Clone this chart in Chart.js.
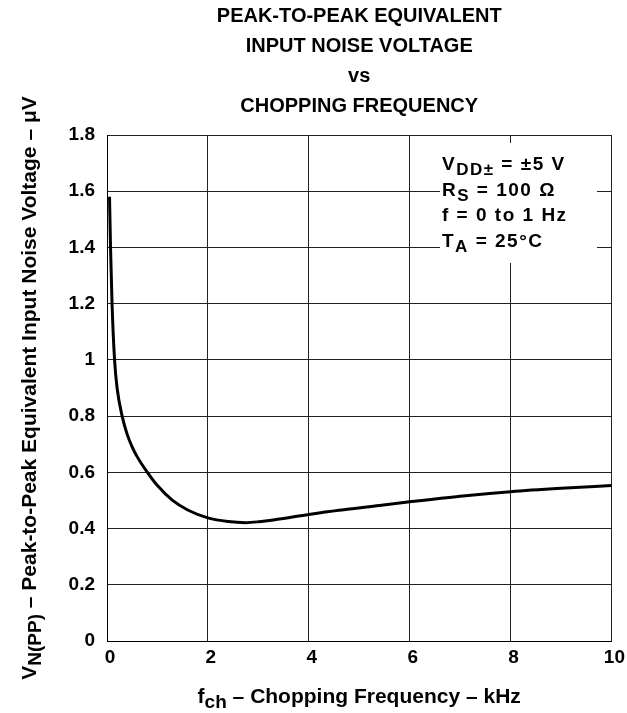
<!DOCTYPE html>
<html>
<head>
<meta charset="utf-8">
<title>Peak-to-Peak Equivalent Input Noise Voltage vs Chopping Frequency</title>
<script src="https://cdn.jsdelivr.net/npm/chart.js@4.4.1/dist/chart.umd.min.js"></script>
<style>
  html, body { margin: 0; padding: 0; background: #fff; }
  #chart { display: block; }
</style>
</head>
<body>
<canvas id="chart" width="627" height="713"></canvas>
<script>
// ---- Data ----
const freqKHz = [0.05, 0.07, 0.1, 0.15, 0.2, 0.3, 0.4, 0.5, 0.6, 0.8, 1.0, 1.3, 1.6, 2.0, 2.4, 2.75, 3.0, 3.35, 4.0, 4.6, 5.4, 6.0, 7.0, 8.0, 9.0, 10.0];
const noiseUV = [1.58, 1.4, 1.2, 1.0, 0.9, 0.8, 0.735, 0.69, 0.655, 0.6, 0.553, 0.5, 0.466, 0.438, 0.425, 0.421, 0.424, 0.432, 0.45, 0.465, 0.482, 0.495, 0.515, 0.531, 0.543, 0.553];

const titleLines = ['PEAK-TO-PEAK EQUIVALENT', 'INPUT NOISE VOLTAGE', 'vs', 'CHOPPING FREQUENCY'];
const conditions = [
  [['V', 0], ['DD\u00b1', 1], [' = \u00b15 V', 0]],
  [['R', 0], ['S', 1], [' = 100 \u03a9', 0]],
  [['f = 0 to 1 Hz', 0]],
  [['T', 0], ['A', 1], [' = 25\u00b0C', 0]]
];
const xTitle = [['f', 0], ['ch', 1], [' \u2013 Chopping Frequency \u2013 kHz', 0]];
const yTitle = [['V', 0], ['N(PP)', 1], [' \u2013 Peak-to-Peak Equivalent Input Noise Voltage \u2013 \u03bcV', 0]];

const FONT = '"Liberation Sans", Arial, sans-serif';

// draw a run of [text, isSubscript] pieces starting at x (or centred on x)
function drawRuns(ctx, runs, x, y, size, align, spacing) {
  const font = s => `bold ${s}px ${FONT}`;
  const subSize = Math.round(size * 0.9);
  ctx.letterSpacing = (spacing || 0) + 'px';
  let total = 0;
  runs.forEach(([t, sub]) => {
    ctx.font = font(sub ? subSize : size);
    total += ctx.measureText(t).width;
  });
  let cx = align === 'center' ? x - total / 2 : x;
  ctx.textAlign = 'left';
  ctx.textBaseline = 'alphabetic';
  runs.forEach(([t, sub]) => {
    ctx.font = font(sub ? subSize : size);
    ctx.fillText(t, cx, y + (sub ? 5 : 0));
    cx += ctx.measureText(t).width;
  });
  ctx.letterSpacing = '0px';
}

const textPlugin = {
  id: 'datasheetText',
  afterDraw(chart) {
    const { ctx, chartArea } = chart;
    const midX = (chartArea.left + chartArea.right) / 2;
    const midY = (chartArea.top + chartArea.bottom) / 2;
    ctx.save();
    ctx.fillStyle = '#000';

    // title
    ctx.font = `bold 20px ${FONT}`;
    ctx.textAlign = 'center';
    ctx.textBaseline = 'alphabetic';
    titleLines.forEach((line, i) => ctx.fillText(line, midX, 22 + i * 30));

    // conditions box
    ctx.fillStyle = '#fff';
    ctx.fillRect(440, 143, 157, 120);
    ctx.fillStyle = '#000';
    conditions.forEach((runs, i) => drawRuns(ctx, runs, 442, 170 + i * 25.7, 19, 'left', 1.5));

    // axis titles
    drawRuns(ctx, xTitle, midX, 703, 21, 'center');
    ctx.translate(36, midY);
    ctx.rotate(-Math.PI / 2);
    drawRuns(ctx, yTitle, 0, 0, 21, 'center');
    ctx.restore();
  }
};

// ---- Chart ----
new Chart(document.getElementById('chart'), {
  type: 'line',
  data: {
    datasets: [{
      data: freqKHz.map((f, i) => ({ x: f, y: noiseUV[i] })),
      borderColor: '#000',
      borderWidth: 3,
      pointRadius: 0,
      fill: false,
      cubicInterpolationMode: 'monotone'
    }]
  },
  options: {
    responsive: false,
    animation: false,
    layout: { padding: { top: 135, left: 0, right: 14, bottom: 0 } },
    plugins: {
      legend: { display: false },
      title: { display: false },
      tooltip: { enabled: false }
    },
    scales: {
      x: {
        type: 'linear',
        min: 0,
        max: 10,
        ticks: {
          stepSize: 2,
          color: '#000',
          padding: 5,
          labelOffset: 3,
          font: { family: FONT, size: 19, weight: 'bold' }
        },
        grid: { color: '#222', lineWidth: 1, drawTicks: false },
        border: { color: '#000', width: 1 },
        afterFit(scale) { scale.height = 72; }
      },
      y: {
        min: 0,
        max: 1.8,
        ticks: {
          stepSize: 0.2,
          color: '#000',
          padding: 12,
          font: { family: FONT, size: 19, weight: 'bold' },
          callback: v => String(Math.round(v * 10) / 10)
        },
        grid: { color: '#222', lineWidth: 1, drawTicks: false },
        border: { color: '#000', width: 1 },
        afterFit(scale) { scale.width = 107; }
      }
    }
  },
  plugins: [textPlugin]
});
</script>
</body>
</html>
